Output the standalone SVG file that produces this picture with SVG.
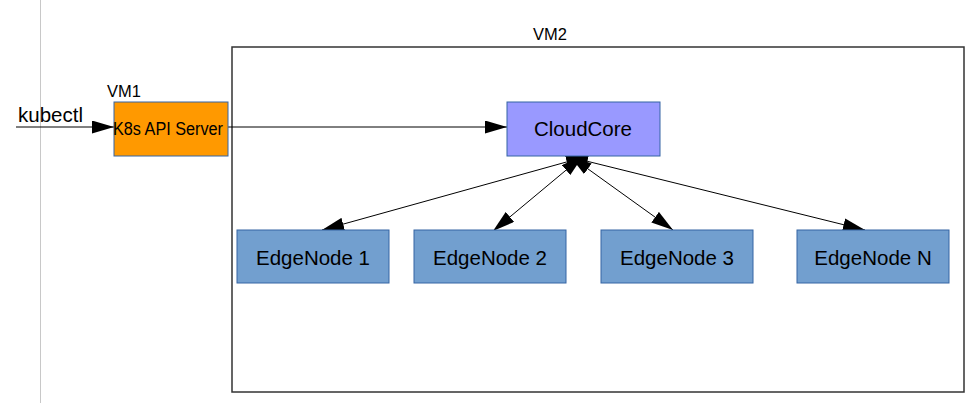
<svg xmlns="http://www.w3.org/2000/svg" width="969" height="403" viewBox="0 0 969 403">
<defs>
<style>
text{font-family:"Liberation Sans",Arial,sans-serif;fill:#000}
.lbl{font-size:20.5px;text-anchor:middle}
.vm{font-size:16.5px}
.edge{fill:#729fcf;stroke:#3465a4;stroke-width:1}
.conn{stroke:#000;stroke-width:1;fill:none}
</style>
<marker id="ah" markerUnits="userSpaceOnUse" markerWidth="22" markerHeight="13" refX="22" refY="6.5" orient="auto-start-reverse" viewBox="0 0 22 13">
<path d="M0,0 L22,6.5 L0,13 z" fill="#000"/>
</marker>
</defs>
<rect width="969" height="403" fill="#fff"/>
<line x1="40.5" y1="0" x2="40.5" y2="403" stroke="#c8c8c8" stroke-width="1"/>
<g id="vm2">
<rect x="232" y="47" width="732" height="345" fill="none" stroke="#333" stroke-width="1.5"/>
<text class="vm" x="533" y="40">VM2</text>
</g>
<g id="vm1-label"><text class="vm" x="107" y="97">VM1</text></g>
<g id="kubectl"><text x="18" y="122" style="font-size:20.5px">kubectl</text></g>
<g id="connectors">
<line class="conn" x1="16" y1="127" x2="114" y2="127" marker-end="url(#ah)"/>
<line class="conn" x1="228" y1="127" x2="507" y2="127" marker-end="url(#ah)"/>
<line class="conn" x1="322" y1="230" x2="588" y2="156" marker-start="url(#ah)" marker-end="url(#ah)"/>
<line class="conn" x1="493" y1="231" x2="583" y2="156" marker-start="url(#ah)" marker-end="url(#ah)"/>
<line class="conn" x1="673" y1="230" x2="570" y2="156" marker-start="url(#ah)" marker-end="url(#ah)"/>
<line class="conn" x1="865" y1="230" x2="566" y2="156" marker-start="url(#ah)" marker-end="url(#ah)"/>
</g>
<g id="k8s">
<rect x="114" y="102" width="114" height="54" fill="#ff9900" stroke="#3465a4" stroke-width="1"/>
<text x="113" y="135" style="font-size:18px" textLength="110" lengthAdjust="spacingAndGlyphs">K8s API Server</text>
</g>
<g id="cloudcore">
<rect x="507" y="102" width="153" height="54" fill="#9999ff" stroke="#3465a4" stroke-width="1"/>
<text class="lbl" x="583" y="136">CloudCore</text>
</g>
<g id="edgenode1">
<rect class="edge" x="237" y="230" width="152" height="53"/>
<text class="lbl" x="313" y="265">EdgeNode 1</text>
</g>
<g id="edgenode2">
<rect class="edge" x="414" y="230" width="152" height="53"/>
<text class="lbl" x="490" y="265">EdgeNode 2</text>
</g>
<g id="edgenode3">
<rect class="edge" x="601" y="230" width="152" height="53"/>
<text class="lbl" x="677" y="265">EdgeNode 3</text>
</g>
<g id="edgenodeN">
<rect class="edge" x="797" y="230" width="152" height="53"/>
<text class="lbl" x="873" y="265">EdgeNode N</text>
</g>
</svg>
